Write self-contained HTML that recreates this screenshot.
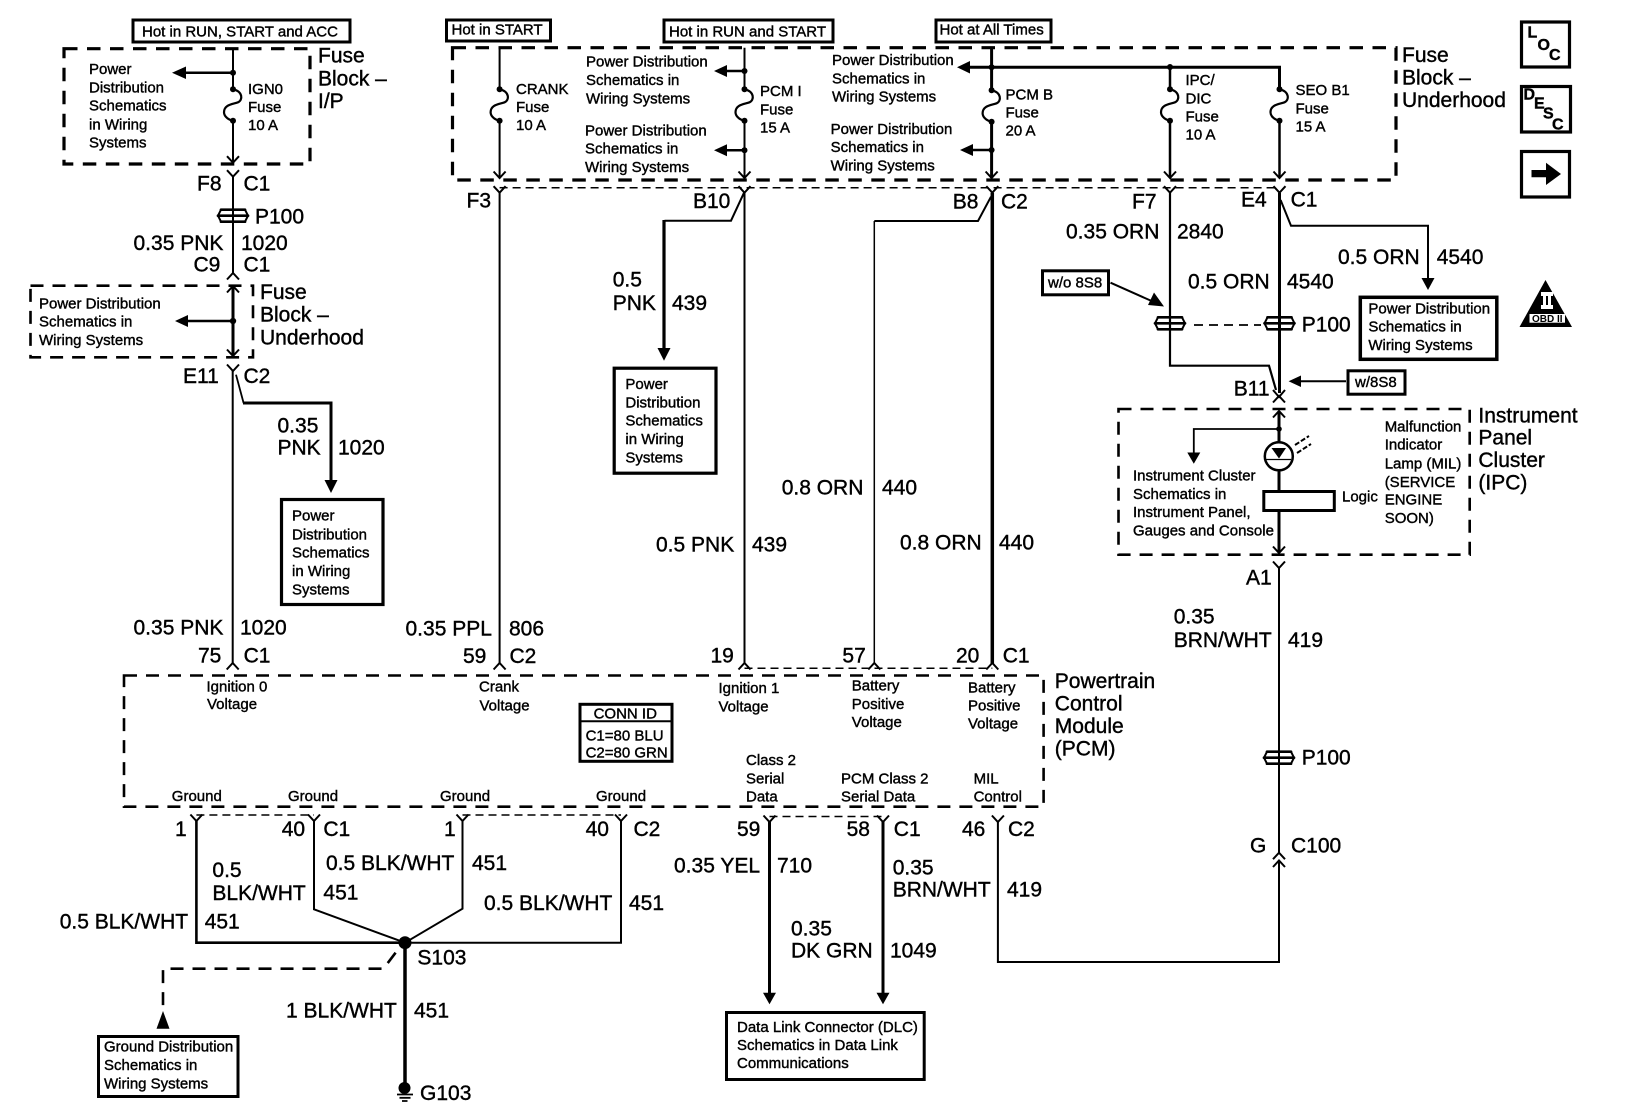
<!DOCTYPE html>
<html><head><meta charset="utf-8"><title>Wiring diagram</title>
<style>
html,body{margin:0;padding:0;background:#fff}
svg{display:block}
text{font-family:"Liberation Sans",sans-serif;fill:#000;stroke:#000;stroke-width:.4}
.b{font-size:21px}.s{font-size:15px}
.w{fill:none;stroke:#000}
</style></head><body>
<svg width="1632" height="1120" viewBox="0 0 1632 1120" xmlns="http://www.w3.org/2000/svg">
<defs>
<g id="vd"><path d="M-6,-6.5L0,0L6,-6.5" fill="none" stroke="#000" stroke-width="2"/></g>
<g id="vu"><path d="M-6,6.5L0,0L6,6.5" fill="none" stroke="#000" stroke-width="2"/></g>
<g id="fuse"><path d="M0,0C10,2 10,11 5,13C0,15 -9,15 -9,23C-9,28 -3,31 0,31.4" fill="none" stroke="#000" stroke-width="2.200"/><circle cx="0" cy="0" r="3"/><circle cx="0" cy="31.4" r="3"/></g>
<g id="pass"><path d="M-12,-6H12M-15,0H15M-12,6H12" stroke="#000" stroke-width="2.700" stroke-linecap="round"/><path d="M-15,0L-12,-6M15,0L12,-6M-15,0L-12,6M15,0L12,6" stroke="#000" stroke-width="2"/></g>
</defs>
<rect width="1632" height="1120" fill="#fff"/>

<!-- top label boxes -->
<g fill="none" stroke="#000" stroke-width="3">
<rect x="133" y="20" width="217" height="22"/>
<rect x="446.500" y="20" width="104" height="21"/>
<rect x="664" y="20" width="169" height="22"/>
<rect x="936" y="20" width="115" height="22"/>
</g>
<text class="s" x="142" y="36.700">Hot in RUN, START and ACC</text>
<text class="s" x="451.500" y="34.700">Hot in START</text>
<text class="s" x="669" y="36.700">Hot in RUN and START</text>
<text class="s" x="939.500" y="34.700">Hot at All Times</text>

<!-- dashed modules -->
<g fill="none" stroke="#000" stroke-width="3.200" stroke-dasharray="13.500 9.500">
<rect x="64" y="48.700" width="246" height="115.300"/>
<rect x="452.500" y="47.700" width="943.500" height="132.300"/>
</g>
<g fill="none" stroke="#000" stroke-width="2.600" stroke-dasharray="13 9">
<rect x="30.500" y="285.700" width="222.500" height="71.600"/>
<rect x="124" y="675.500" width="919.600" height="131.200"/>
<rect x="1118.500" y="409" width="351.200" height="145.700"/>
</g>

<!-- IGN0 column -->
<path class="w" stroke-width="2" d="M233,48.700V89.300M233,120.700V162"/>
<use href="#fuse" x="233" y="89.300"/>
<circle cx="233" cy="72.700" r="3"/>
<path class="w" stroke-width="2.500" d="M233,72.700H180"/><path d="M172,72.700L186,66.500V79z"/>
<use href="#vd" x="233" y="162.700"/><use href="#vd" x="233" y="176.700"/>
<path class="w" stroke-width="2" d="M233,176.700V273"/>
<use href="#pass" x="233" y="215.700"/>
<use href="#vu" x="233" y="273"/>
<use href="#vu" x="233" y="286"/>
<path class="w" stroke-width="3" d="M233,287V355"/>
<circle cx="233" cy="321" r="3.200"/>
<path class="w" stroke-width="2.500" d="M233,321H182"/><path d="M175,321L188,315V327z"/>
<use href="#vd" x="233" y="356"/><use href="#vd" x="233" y="371"/>
<path class="w" stroke-width="2" d="M232.700,371V664"/>
<use href="#vu" x="232.700" y="663"/>
<path class="w" stroke-width="1.800" d="M236,374.700L243.600,403"/>
<path class="w" stroke-width="3" d="M243,403H331V482"/>
<path d="M331,493L324.500,480H337.500z"/>

<!-- texts left -->
<text class="s" x="89" y="74">Power</text><text class="s" x="89" y="92.700">Distribution</text><text class="s" x="89" y="110.700">Schematics</text><text class="s" x="89" y="129.300">in Wiring</text><text class="s" x="89" y="147.300">Systems</text>
<text class="s" x="248" y="94">IGN0</text><text class="s" x="248" y="112">Fuse</text><text class="s" x="248" y="130">10 A</text>
<text class="s" x="39" y="308.300">Power Distribution</text><text class="s" x="39" y="326.700">Schematics in</text><text class="s" x="39" y="345">Wiring Systems</text>
<text class="b" x="318" y="62.700">Fuse</text><text class="b" x="318" y="85.300">Block –</text><text class="b" x="318" y="108">I/P</text>
<text class="b" x="197" y="190.700">F8</text><text class="b" x="243.500" y="190.700">C1</text>
<text class="b" x="255" y="223.300">P100</text>
<text class="b" x="133.500" y="250">0.35 PNK</text><text class="b" x="241" y="250">1020</text>
<text class="b" x="193.500" y="271.700">C9</text><text class="b" x="243.500" y="271.700">C1</text>
<text class="b" x="260" y="299">Fuse</text><text class="b" x="260" y="321.700">Block –</text><text class="b" x="260" y="344.300">Underhood</text>
<text class="b" x="183" y="383">E11</text><text class="b" x="243.500" y="383">C2</text>
<text class="b" x="277.500" y="432.300">0.35</text><text class="b" x="277.500" y="454.700">PNK</text><text class="b" x="338" y="454.700">1020</text>
<rect x="281.500" y="499.500" width="101.500" height="105" fill="none" stroke="#000" stroke-width="3.200"/>
<text class="s" x="292" y="520.700">Power</text><text class="s" x="292" y="539.300">Distribution</text><text class="s" x="292" y="557.300">Schematics</text><text class="s" x="292" y="576">in Wiring</text><text class="s" x="292" y="594.300">Systems</text>
<text class="b" x="133.500" y="634.700">0.35 PNK</text><text class="b" x="240" y="634.700">1020</text>
<text class="b" x="198" y="662.300">75</text><text class="b" x="243.600" y="662.300">C1</text>

<!-- CRANK column -->
<path class="w" stroke-width="2" d="M499.600,47.700V89.300M499.600,120.700V178"/>
<use href="#fuse" x="499.600" y="89.300"/>
<use href="#vd" x="499.600" y="178"/><use href="#vd" x="499.600" y="192.700"/>
<path class="w" stroke-width="2" d="M499.600,192.700V664"/><use href="#vu" x="499.600" y="663"/>
<text class="s" x="516" y="94">CRANK</text><text class="s" x="516" y="112">Fuse</text><text class="s" x="516" y="130">10 A</text>
<text class="b" x="466.500" y="207.300">F3</text>
<text class="b" x="405.500" y="635.300">0.35 PPL</text><text class="b" x="509" y="635.300">806</text>
<text class="b" x="463" y="663">59</text><text class="b" x="509.500" y="663">C2</text>

<!-- thin dashed connector shells -->
<path class="w" stroke-width="1.500" stroke-dasharray="8 5" d="M499.600,187.700H1279.500"/>
<path class="w" stroke-width="1.500" stroke-dasharray="8 5" d="M744.500,668.300H992.300"/>
<path class="w" stroke-width="1.500" stroke-dasharray="8 5" d="M196.400,815H314M462.500,815H621M769.500,816.500H883"/>

<!-- PCM I column -->
<path class="w" stroke-width="2" d="M744.500,47.700V89.300M744.500,120.700V178"/>
<use href="#fuse" x="744.500" y="89.300"/>
<circle cx="744.500" cy="71" r="3"/><circle cx="744.500" cy="150.300" r="3"/>
<path class="w" stroke-width="2.500" d="M744.500,71H722M744.500,150.300H722"/>
<path d="M714,71L727,65V77z"/><path d="M714,150.300L727,144.300V156.300z"/>
<use href="#vd" x="744.500" y="178"/><use href="#vd" x="744.500" y="192.700"/>
<path class="w" stroke-width="2" d="M744.500,192.700V664"/><use href="#vu" x="744.500" y="663"/>
<text class="s" x="586" y="66.700">Power Distribution</text><text class="s" x="586" y="85">Schematics in</text><text class="s" x="586" y="103.300">Wiring Systems</text>
<text class="s" x="585" y="135.300">Power Distribution</text><text class="s" x="585" y="153.300">Schematics in</text><text class="s" x="585" y="172">Wiring Systems</text>
<text class="s" x="760" y="96">PCM I</text><text class="s" x="760" y="114.700">Fuse</text><text class="s" x="760" y="132.700">15 A</text>
<text class="b" x="693" y="208">B10</text>
<path class="w" stroke-width="2" d="M744.500,191.700L731,220.700H664.500"/>
<path class="w" stroke-width="3.200" d="M664,220V350"/>
<path d="M664,360.700L657.500,348H670.500z"/>
<text class="b" x="612.700" y="286.700">0.5</text><text class="b" x="612.700" y="310">PNK</text><text class="b" x="672" y="310">439</text>
<rect x="614.200" y="368.200" width="101.800" height="105" fill="none" stroke="#000" stroke-width="3.200"/>
<text class="s" x="625.400" y="389">Power</text><text class="s" x="625.400" y="407.700">Distribution</text><text class="s" x="625.400" y="425.700">Schematics</text><text class="s" x="625.400" y="444">in Wiring</text><text class="s" x="625.400" y="462.300">Systems</text>
<text class="b" x="656" y="551.300">0.5 PNK</text><text class="b" x="752" y="551.300">439</text>
<text class="b" x="710.500" y="662.300">19</text>

<!-- PCM B column -->
<path class="w" stroke-width="3" d="M991.600,47.700V91M991.600,121.700V178"/>
<path class="w" stroke-width="3" d="M966,67.300H1279.500V89.300"/>
<path d="M957,67.300L970,61V73.500z"/>
<circle cx="991.600" cy="67.300" r="3"/>
<use href="#fuse" x="991.600" y="90.300"/>
<circle cx="991.600" cy="150" r="3"/>
<path class="w" stroke-width="2.500" d="M991.600,150H968"/><path d="M960,150L973,144V156z"/>
<use href="#vd" x="991.600" y="178"/><use href="#vd" x="992.300" y="192.700"/>
<path class="w" stroke-width="3.500" d="M992.300,192.700V664"/><use href="#vu" x="992.300" y="663"/>
<path class="w" stroke-width="2" d="M991,196.700L978,221H874.300"/>
<path class="w" stroke-width="1.500" d="M874.300,221V664"/><use href="#vu" x="874.300" y="663"/>
<text class="s" x="832" y="65">Power Distribution</text><text class="s" x="832" y="83.300">Schematics in</text><text class="s" x="832" y="101.700">Wiring Systems</text>
<text class="s" x="830.600" y="134">Power Distribution</text><text class="s" x="830.600" y="152">Schematics in</text><text class="s" x="830.600" y="170.300">Wiring Systems</text>
<text class="s" x="1005.500" y="99.300">PCM B</text><text class="s" x="1005.500" y="117.300">Fuse</text><text class="s" x="1005.500" y="135.300">20 A</text>
<text class="b" x="952.700" y="208.300">B8</text><text class="b" x="1001" y="208.300">C2</text>
<text class="b" x="781.700" y="494.700">0.8 ORN</text><text class="b" x="882" y="494.700">440</text>
<text class="b" x="900" y="549.700">0.8 ORN</text><text class="b" x="999" y="549.700">440</text>
<text class="b" x="842.400" y="662.300">57</text><text class="b" x="956" y="662.300">20</text><text class="b" x="1002.700" y="662.300">C1</text>

<!-- IPC/SEO columns -->
<circle cx="1170" cy="67" r="3"/>
<path class="w" stroke-width="2.500" d="M1170,67V89.300M1170,120.700V178"/>
<use href="#fuse" x="1170" y="89.300"/>
<use href="#fuse" x="1279.500" y="89.300"/>
<path class="w" stroke-width="2.500" d="M1279.500,120.700V178"/>
<use href="#vd" x="1170" y="178"/><use href="#vd" x="1170" y="192.700"/>
<use href="#vd" x="1279.500" y="178"/><use href="#vd" x="1279.500" y="192.700"/>
<text class="s" x="1185.500" y="85">IPC/</text><text class="s" x="1185.500" y="103.300">DIC</text><text class="s" x="1185.500" y="121.300">Fuse</text><text class="s" x="1185.500" y="139.300">10 A</text>
<text class="s" x="1295.500" y="95">SEO B1</text><text class="s" x="1295.500" y="113.300">Fuse</text><text class="s" x="1295.500" y="131.300">15 A</text>
<text class="b" x="1402" y="62">Fuse</text><text class="b" x="1402" y="84.500">Block –</text><text class="b" x="1402" y="107">Underhood</text>
<text class="b" x="1132" y="208.300">F7</text><text class="b" x="1241" y="206.700">E4</text><text class="b" x="1290.600" y="206.700">C1</text>
<text class="b" x="1066" y="238.300">0.35 ORN</text><text class="b" x="1177" y="238.300">2840</text>
<text class="b" x="1188" y="288.300">0.5 ORN</text><text class="b" x="1287" y="288.300">4540</text>
<text class="b" x="1338" y="264">0.5 ORN</text><text class="b" x="1436.700" y="264">4540</text>
<path class="w" stroke-width="2.200" d="M1170,192.700V365.700H1269L1276,390"/>
<path class="w" stroke-width="3" d="M1279.500,192.700V393"/>
<path class="w" stroke-width="2" d="M1280.600,200L1291,225.700H1428V280"/>
<path d="M1428,290L1421.500,278H1434.500z"/>
<path class="w" stroke-width="1.800" stroke-dasharray="9 6" d="M1194,325H1261"/>
<use href="#pass" x="1170" y="323.300"/><use href="#pass" x="1279.500" y="323.300"/>
<text class="b" x="1301.700" y="331.700">P100</text>
<rect x="1360.300" y="297.300" width="136.500" height="62" fill="none" stroke="#000" stroke-width="3.500"/>
<text class="s" x="1368.400" y="313.300">Power Distribution</text><text class="s" x="1368.400" y="331.700">Schematics in</text><text class="s" x="1368.400" y="350">Wiring Systems</text>
<!-- w/o 8S8 -->
<rect x="1042.500" y="270.800" width="66" height="24" fill="none" stroke="#000" stroke-width="3"/>
<text class="s" x="1048" y="287.300">w/o 8S8</text>
<path class="w" stroke-width="2" d="M1110.500,282.700L1155,302.500"/><path d="M1164,306.500L1148,305L1154,292.500z"/>
<!-- w/8S8 -->
<rect x="1348" y="370.800" width="57" height="23.400" fill="none" stroke="#000" stroke-width="3"/>
<text class="s" x="1355" y="387">w/8S8</text>
<path class="w" stroke-width="2" d="M1346,381.300H1297"/><path d="M1288.600,381.300L1301,375.500V387z"/>
<!-- B11 -->
<text class="b" x="1233.700" y="395.700">B11</text>
<path d="M1273,390L1279,397L1285,390" fill="none" stroke="#000" stroke-width="2"/>
<use href="#vu" x="1279" y="396"/>
<!-- IPC -->
<use href="#vu" x="1279" y="411"/>
<path class="w" stroke-width="3" d="M1279,412V442M1279,470V490M1279,511V552"/>
<circle cx="1279" cy="429" r="2.800"/>
<path class="w" stroke-width="1.800" d="M1279,429H1193.800V455"/>
<path d="M1193.800,463.700L1187.300,452.500H1200.300z"/>
<circle cx="1278.800" cy="456.300" r="14" fill="none" stroke="#000" stroke-width="2.500"/>
<path d="M1271.500,448H1286L1279,458.500z"/><path d="M1266,459.500H1291" stroke="#000" stroke-width="1.200"/>
<path class="w" stroke-width="2" stroke-dasharray="5 2" d="M1295,445L1309,436M1297,453L1311,444"/>
<rect x="1263.800" y="491.500" width="70.500" height="19" fill="#fff" stroke="#000" stroke-width="3"/>
<use href="#vd" x="1279" y="553"/><use href="#vd" x="1279" y="568"/>
<text class="s" x="1133" y="480.700">Instrument Cluster</text><text class="s" x="1133" y="499">Schematics in</text><text class="s" x="1133" y="517">Instrument Panel,</text><text class="s" x="1133" y="535.300">Gauges and Console</text>
<text class="s" x="1342" y="501.300">Logic</text>
<text class="s" x="1384.700" y="431.300">Malfunction</text><text class="s" x="1384.700" y="449.700">Indicator</text><text class="s" x="1384.700" y="468.700">Lamp (MIL)</text><text class="s" x="1384.700" y="487">(SERVICE</text><text class="s" x="1384.700" y="504.700">ENGINE</text><text class="s" x="1384.700" y="523">SOON)</text>
<text class="b" x="1478.400" y="422.300">Instrument</text><text class="b" x="1478.400" y="444.300">Panel</text><text class="b" x="1478.400" y="467">Cluster</text><text class="b" x="1478.400" y="489.700">(IPC)</text>
<text class="b" x="1246" y="584.700">A1</text>
<text class="b" x="1173.700" y="623.700">0.35</text><text class="b" x="1173.700" y="647">BRN/WHT</text><text class="b" x="1288" y="647">419</text>
<path class="w" stroke-width="2" d="M1279,568V853M1279,861V962H997.900V822"/>
<use href="#pass" x="1279" y="757.700"/>
<text class="b" x="1301.700" y="764.300">P100</text>
<use href="#vu" x="1279" y="852.700"/><use href="#vu" x="1279" y="860.500"/>
<text class="b" x="1250" y="852.700">G</text><text class="b" x="1291" y="852.700">C100</text>

<!-- PCM labels -->
<text class="s" x="206.500" y="691.300">Ignition 0</text><text class="s" x="207" y="709">Voltage</text>
<text class="s" x="479" y="691.300">Crank</text><text class="s" x="479.500" y="710.300">Voltage</text>
<text class="s" x="718.500" y="693">Ignition 1</text><text class="s" x="718.500" y="711.300">Voltage</text>
<text class="s" x="851.800" y="690.700">Battery</text><text class="s" x="851.800" y="709">Positive</text><text class="s" x="851.800" y="727">Voltage</text>
<text class="s" x="968" y="692.300">Battery</text><text class="s" x="968" y="710.300">Positive</text><text class="s" x="968" y="728.700">Voltage</text>
<text class="b" x="1054.800" y="688">Powertrain</text><text class="b" x="1054.800" y="710.300">Control</text><text class="b" x="1054.800" y="733">Module</text><text class="b" x="1054.800" y="755.500">(PCM)</text>
<rect x="580" y="704.300" width="92" height="57" fill="none" stroke="#000" stroke-width="3"/>
<path d="M580,721.300H672" stroke="#000" stroke-width="2"/>
<text class="s" x="593.600" y="718.300">CONN ID</text>
<text class="s" x="585.600" y="740.300">C1=80 BLU</text><text class="s" x="585.600" y="757.700">C2=80 GRN</text>
<text class="s" x="171.800" y="801">Ground</text><text class="s" x="288" y="801">Ground</text><text class="s" x="440" y="801">Ground</text><text class="s" x="596" y="801">Ground</text>
<text class="s" x="746" y="765">Class 2</text><text class="s" x="746" y="783.300">Serial</text><text class="s" x="746" y="801.700">Data</text>
<text class="s" x="841" y="783.300">PCM Class 2</text><text class="s" x="841" y="801.700">Serial Data</text>
<text class="s" x="973.600" y="783.300">MIL</text><text class="s" x="973.600" y="801.700">Control</text>

<!-- ground wiring -->
<use href="#vd" x="196.400" y="821"/><use href="#vd" x="314" y="821"/><use href="#vd" x="462.500" y="821"/><use href="#vd" x="621" y="821"/>
<use href="#vd" x="769.500" y="822"/><use href="#vd" x="883" y="822"/><use href="#vd" x="997.900" y="822"/>
<path class="w" stroke-width="2.600" d="M196.400,821V942.700H405"/>
<path class="w" stroke-width="2" d="M405,942.700H621V821"/>
<path class="w" stroke-width="2" d="M314,821V909.300L405,942.700L462.500,908.700V821"/>
<circle cx="405" cy="942.700" r="6.500"/>
<path class="w" stroke-width="3.500" d="M405,942.700V1085"/>
<circle cx="404.500" cy="1088" r="6"/>
<path d="M397,1094.500H413M399.500,1097.800H410.500M402,1101H407.500" stroke="#000" stroke-width="1.800"/>
<path class="w" stroke-width="2.600" stroke-dasharray="13 9" d="M395.600,952.700L383.400,968.700H163V1012"/>
<path d="M163,1011L156.500,1028.700H169.500z"/>
<rect x="98.500" y="1036.500" width="139.500" height="60" fill="none" stroke="#000" stroke-width="3"/>
<text class="s" x="104" y="1051.700">Ground Distribution</text><text class="s" x="104" y="1070">Schematics in</text><text class="s" x="104" y="1088.300">Wiring Systems</text>
<text class="b" x="175" y="836">1</text><text class="b" x="281.700" y="836">40</text><text class="b" x="323.400" y="836">C1</text>
<text class="b" x="444" y="836">1</text><text class="b" x="585.600" y="836">40</text><text class="b" x="633.500" y="836">C2</text>
<text class="b" x="212.400" y="877">0.5</text><text class="b" x="212.400" y="900">BLK/WHT</text><text class="b" x="323.400" y="899.300">451</text>
<text class="b" x="326" y="870">0.5 BLK/WHT</text><text class="b" x="472" y="870">451</text>
<text class="b" x="59.700" y="928.700">0.5 BLK/WHT</text><text class="b" x="204.700" y="928.700">451</text>
<text class="b" x="484" y="910">0.5 BLK/WHT</text><text class="b" x="629" y="910">451</text>
<text class="b" x="417.400" y="964.300">S103</text>
<text class="b" x="286" y="1017.700">1 BLK/WHT</text><text class="b" x="414" y="1017.700">451</text>
<text class="b" x="420" y="1100">G103</text>

<!-- data link -->
<path class="w" stroke-width="3" d="M769.500,822V994M883,822V994"/>
<path d="M769.500,1004.300L763,992.700H776z"/><path d="M883,1004.300L876.500,992.700H889.500z"/>
<rect x="726.500" y="1012.500" width="197.700" height="67" fill="none" stroke="#000" stroke-width="3"/>
<text class="s" x="737" y="1032">Data Link Connector (DLC)</text><text class="s" x="737" y="1050">Schematics in Data Link</text><text class="s" x="737" y="1068">Communications</text>
<text class="b" x="737" y="836">59</text><text class="b" x="846.600" y="836">58</text><text class="b" x="893.800" y="836">C1</text><text class="b" x="962" y="836">46</text><text class="b" x="1008" y="836">C2</text>
<text class="b" x="674" y="872.700">0.35 YEL</text><text class="b" x="777" y="872.700">710</text>
<text class="b" x="892.700" y="874.300">0.35</text><text class="b" x="892.700" y="896.700">BRN/WHT</text><text class="b" x="1007" y="896.700">419</text>
<text class="b" x="791" y="935.300">0.35</text><text class="b" x="791" y="957.700">DK GRN</text><text class="b" x="890" y="957.700">1049</text>

<!-- right icons -->
<g fill="none" stroke="#000" stroke-width="3.200">
<rect x="1521.500" y="22" width="48" height="45"/>
<rect x="1521.500" y="86.500" width="49" height="45.500"/>
<rect x="1521.500" y="151.500" width="48" height="45.500"/>
</g>
<g style="font-weight:bold">
<text style="font-size:16px" x="1527.500" y="37.300">L</text><text style="font-size:16px" x="1537.500" y="50">O</text><text style="font-size:16px" x="1549" y="60">C</text>
<text style="font-size:16px" x="1523.500" y="99.300">D</text><text style="font-size:16px" x="1534" y="108.300">E</text><text style="font-size:16px" x="1543" y="118.300">S</text><text style="font-size:16px" x="1552" y="129.300">C</text>
</g>
<path d="M1531.500,170H1546V162.700L1561,174L1546,185V177.300H1531.500z"/>
<path d="M1545.500,280L1572,327H1519.500z"/>
<path d="M1541,292H1553V296H1551V305H1553V309H1541V305H1543V296H1541z" fill="#fff"/>
<path d="M1546,296H1548V305H1546z"/>
<rect x="1529.500" y="314" width="35.500" height="8.700" fill="#fff"/>
<text x="1532" y="322" style="font-size:10px;font-weight:bold;stroke:none">OBD II</text>
</svg>
</body></html>
